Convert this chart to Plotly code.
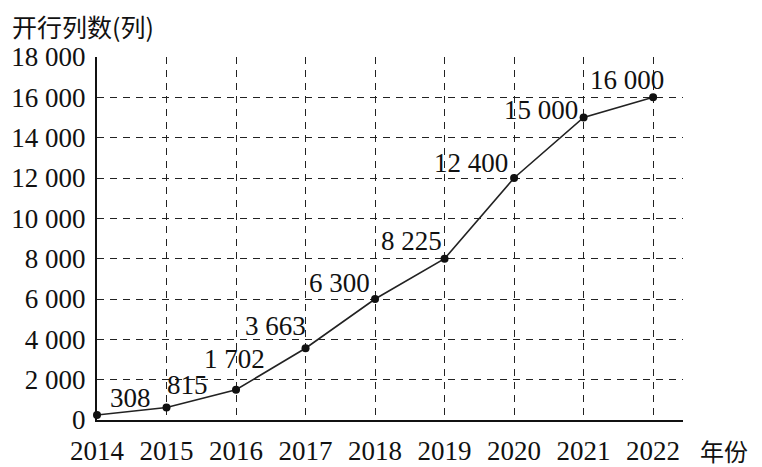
"""Line chart: trains run per year (开行列数) 2014-2022."""

import plotly.graph_objects as go

years = [2014, 2015, 2016, 2017, 2018, 2019, 2020, 2021, 2022]
# vertical positions of the points as drawn in the picture
plotted = [250, 620, 1500, 3560, 6000, 8000, 12000, 15000, 16000]
# values printed next to the points
labels = ["308", "815", "1 702", "3 663", "6 300", "8 225", "12 400", "15 000", "16 000"]

# pixel offsets of each value label from its point
label_dx = [33, 21, -2, -30, -36, -33, -43, -43, -26]
label_dy = [-17, -23, -31, -22, -16, -18, -15, -8, -17]

y_ticks = list(range(0, 18001, 2000))
y_ticktext = [f"{v:,}".replace(",", " ") for v in y_ticks]

serif = "Liberation Serif"
cjk = "Noto Sans CJK SC"

fig = go.Figure()
fig.add_trace(
    go.Scatter(
        x=years,
        y=plotted,
        mode="lines+markers",
        line=dict(color="#222", width=1.6),
        marker=dict(color="#111", size=8),
        cliponaxis=False,
        showlegend=False,
    )
)
for x, y, t, dx, dy in zip(years, plotted, labels, label_dx, label_dy):
    fig.add_annotation(
        x=x, y=y, text=t, showarrow=False,
        xshift=dx, yshift=-dy,
        font=dict(family=serif, size=27, color="#111"),
    )

fig.update_xaxes(
    range=[2014, 2022.43],
    tickvals=years,
    showgrid=True,
    gridcolor="#222",
    gridwidth=1.3,
    griddash="7px,6px",
    showline=True,
    linecolor="#111",
    linewidth=2,
    zeroline=False,
    ticks="",
    automargin=False,
    ticklabelstandoff=6,
    tickfont=dict(family=serif, size=27, color="#111"),
)
fig.update_yaxes(
    range=[0, 18000],
    tickvals=y_ticks,
    ticktext=y_ticktext,
    showgrid=True,
    gridcolor="#222",
    gridwidth=1.3,
    griddash="7px,6px",
    showline=True,
    linecolor="#111",
    linewidth=2,
    zeroline=False,
    ticks="",
    automargin=False,
    ticklabelstandoff=4,
    tickfont=dict(family=serif, size=27, color="#111"),
)

fig.add_annotation(
    text="开行列数(列)", xref="paper", yref="paper", x=-0.148, y=1.085,
    xanchor="left", yanchor="middle", showarrow=False,
    font=dict(family=cjk, size=25, color="#111"),
)
fig.add_annotation(
    text="年份", xref="paper", yref="paper", x=1.025, y=-0.083,
    xanchor="left", yanchor="middle", showarrow=False,
    font=dict(family=cjk, size=24, color="#111"),
)

# the page adds an 8px body margin, so the figure is drawn 8px smaller
fig.update_layout(
    width=754,
    height=459,
    template="plotly_white",
    plot_bgcolor="white",
    paper_bgcolor="white",
    margin=dict(l=89, r=79, t=49, b=47),
)

fig.write_html("out.html")
